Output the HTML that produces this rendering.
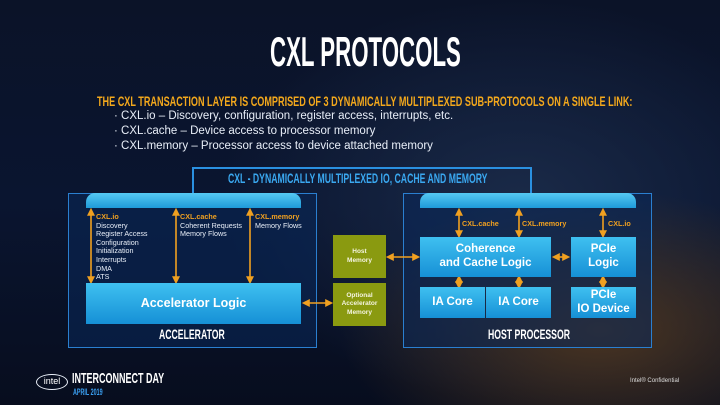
<!DOCTYPE html>
<html><head><meta charset="utf-8"><style>
*{margin:0;padding:0;box-sizing:border-box}
body{width:720px;height:405px;overflow:hidden;font-family:"Liberation Sans",sans-serif;position:relative;
background:radial-gradient(ellipse 260px 140px at 600px 330px,#4a3420 0%,rgba(40,30,30,0) 100%),radial-gradient(ellipse 300px 200px at 520px 200px,#1a2a48 0%,rgba(0,0,0,0) 100%),linear-gradient(180deg,#0b1328 0%,#0a1530 50%,#070d1e 100%);}
.a{position:absolute}
.cond{font-weight:bold;transform-origin:0 0;white-space:nowrap}
.box{position:absolute;background:linear-gradient(180deg,#3fc0f0,#1690d6);color:#fff;font-weight:bold;text-align:center;display:flex;align-items:center;justify-content:center;line-height:1.2}
.bar{position:absolute;background:linear-gradient(180deg,#56c9f2,#1e9ad9);border-radius:9px 9px 0 0}
.frame{position:absolute;border:1.5px solid #2a7fd0;background:rgba(10,40,90,0.55)}
.sm{font-size:7.2px;color:#e8eef8;line-height:8.6px}
.or{color:#f0a020;font-weight:bold}
.green{position:absolute;background:#8a9a10;color:#f4f4e0;font-size:6.5px;font-weight:bold;text-align:center;display:flex;align-items:center;justify-content:center;line-height:1.3}
</style></head><body>
<div class="a cond" style="left:270px;top:28px;font-size:42px;color:#fff;transform:scaleX(0.53)">CXL PROTOCOLS</div>
<div class="a cond" style="left:97px;top:93px;font-size:14px;color:#f3a81c;transform:scaleX(0.65)">THE CXL TRANSACTION LAYER IS COMPRISED OF 3 DYNAMICALLY MULTIPLEXED SUB-PROTOCOLS ON A SINGLE LINK:</div>
<div class="a" style="left:114px;top:109px;font-size:11.5px;color:#e8eef8;line-height:15px">
· CXL.io – Discovery, configuration, register access, interrupts, etc.<br>· CXL.cache – Device access to processor memory<br>· CXL.memory – Processor access to device attached memory</div>

<div class="frame" style="left:68px;top:193px;width:249px;height:155px"></div>
<div class="frame" style="left:403px;top:193px;width:249px;height:155px"></div>
<div class="bar" style="left:86px;top:193px;width:215px;height:15px"></div>
<div class="bar" style="left:420px;top:193px;width:216px;height:15px"></div>

<svg class="a" style="left:0;top:0" width="720" height="405">
<defs><marker id="m" markerWidth="6" markerHeight="6" refX="3" refY="3" orient="auto-start-reverse"><path d="M0,0.5L5,3L0,5.5z" fill="#f0a020"/></marker></defs>
<path d="M193 193V168H531V193" stroke="#2a90e0" stroke-width="2" fill="none"/>
<g stroke="#f0a020" stroke-width="1.6" marker-start="url(#m)" marker-end="url(#m)">
<line x1="91" y1="211" x2="91" y2="281"/><line x1="176" y1="211" x2="176" y2="281"/><line x1="250" y1="211" x2="250" y2="281"/>
<line x1="459" y1="211" x2="459" y2="235"/><line x1="519" y1="211" x2="519" y2="235"/><line x1="603" y1="211" x2="603" y2="235"/>
<line x1="459" y1="278" x2="459" y2="286"/><line x1="519" y1="278" x2="519" y2="286"/><line x1="603" y1="278" x2="603" y2="286"/>
<line x1="555" y1="257" x2="567" y2="257"/><line x1="389" y1="257" x2="417" y2="257"/><line x1="305" y1="303" x2="330" y2="303"/>
</g></svg>
<div class="a cond" style="left:228px;top:170px;font-size:14px;color:#3aa8f0;transform:scaleX(0.62)">CXL - DYNAMICALLY MULTIPLEXED IO, CACHE AND MEMORY</div>

<div class="a sm" style="left:96px;top:213px"><span class="or">CXL.io</span><br>Discovery<br>Register Access<br>Configuration<br>Initialization<br>Interrupts<br>DMA<br>ATS</div>
<div class="a sm" style="left:180px;top:213px"><span class="or">CXL.cache</span><br>Coherent Requests<br>Memory Flows</div>
<div class="a sm" style="left:255px;top:213px"><span class="or">CXL.memory</span><br>Memory Flows</div>
<div class="a sm or" style="left:462px;top:220px">CXL.cache</div>
<div class="a sm or" style="left:522px;top:220px">CXL.memory</div>
<div class="a sm or" style="left:608px;top:220px">CXL.io</div>

<div class="box" style="left:86px;top:283px;width:215px;height:41px;font-size:12.5px">Accelerator Logic</div>
<div class="box" style="left:420px;top:237px;width:131px;height:40px;font-size:11.5px">Coherence<br>and Cache Logic</div>
<div class="box" style="left:571px;top:237px;width:65px;height:40px;font-size:11.5px">PCIe<br>Logic</div>
<div class="box" style="left:420px;top:287px;width:65px;height:31px;font-size:11.5px">IA Core</div>
<div class="box" style="left:486px;top:287px;width:65px;height:31px;font-size:11.5px">IA Core</div>
<div class="box" style="left:571px;top:287px;width:65px;height:31px;font-size:11.5px">PCIe<br>IO Device</div>
<div class="green" style="left:333px;top:235px;width:53px;height:43px">Host<br>Memory</div>
<div class="green" style="left:333px;top:283px;width:53px;height:43px">Optional<br>Accelerator<br>Memory</div>

<div class="a cond" style="left:159px;top:326px;font-size:14px;color:#fff;transform:scaleX(0.62)">ACCELERATOR</div>
<div class="a cond" style="left:488px;top:326px;font-size:14px;color:#fff;transform:scaleX(0.62)">HOST PROCESSOR</div>

<div class="a" style="left:36px;top:374px;width:32px;height:16px;border:1.5px solid #e8eef8;border-radius:50%;color:#fff;font-size:9px;text-align:center;line-height:13px">intel</div>
<div class="a cond" style="left:72px;top:370px;font-size:15px;color:#fff;transform:scaleX(0.6)">INTERCONNECT DAY</div>
<div class="a cond" style="left:73px;top:387px;font-size:9px;color:#3a9ff0;transform:scaleX(0.6)">APRIL 2019</div>
<div class="a" style="left:630px;top:378px;font-size:6px;color:#ddd">Intel® Confidential</div>
</body></html>
